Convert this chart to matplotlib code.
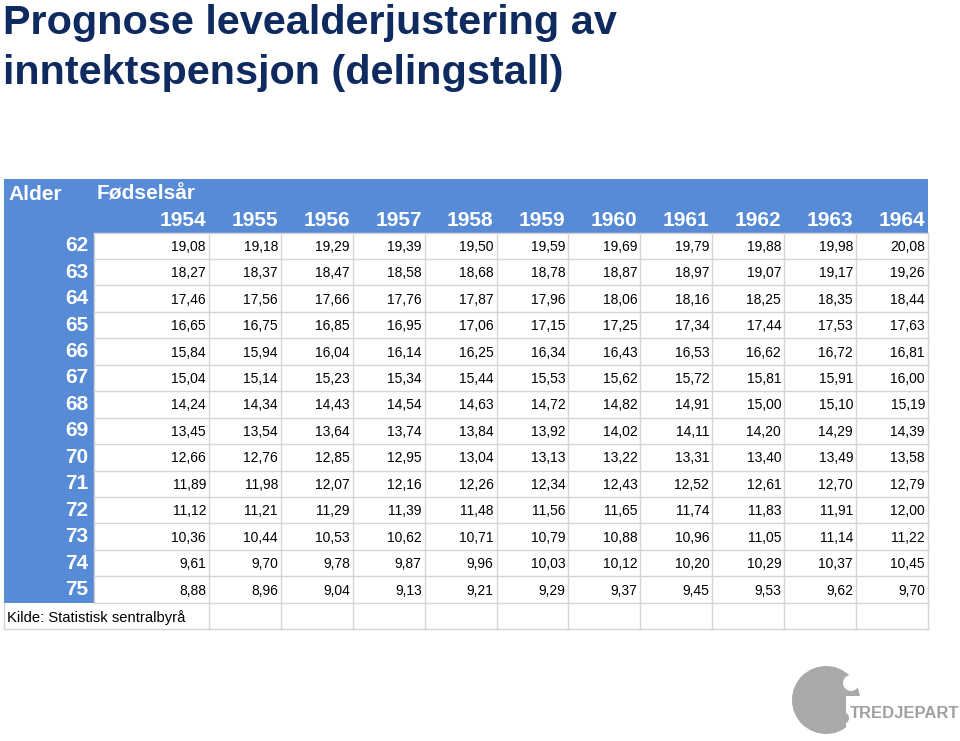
import matplotlib

matplotlib.use('Agg')
import matplotlib.pyplot as plt
from matplotlib.patches import Rectangle, Circle

plt.rcParams['font.family'] = ['Liberation Sans', 'DejaVu Sans']

title = "Prognose levealderjustering av\ninntektspensjon (delingstall)"
years = [1954, 1955, 1956, 1957, 1958, 1959, 1960, 1961, 1962, 1963, 1964]
ages = [62, 63, 64, 65, 66, 67, 68, 69, 70, 71, 72, 73, 74, 75]
values = [
    [19.08, 19.18, 19.29, 19.39, 19.50, 19.59, 19.69, 19.79, 19.88, 19.98, 20.08],
    [18.27, 18.37, 18.47, 18.58, 18.68, 18.78, 18.87, 18.97, 19.07, 19.17, 19.26],
    [17.46, 17.56, 17.66, 17.76, 17.87, 17.96, 18.06, 18.16, 18.25, 18.35, 18.44],
    [16.65, 16.75, 16.85, 16.95, 17.06, 17.15, 17.25, 17.34, 17.44, 17.53, 17.63],
    [15.84, 15.94, 16.04, 16.14, 16.25, 16.34, 16.43, 16.53, 16.62, 16.72, 16.81],
    [15.04, 15.14, 15.23, 15.34, 15.44, 15.53, 15.62, 15.72, 15.81, 15.91, 16.00],
    [14.24, 14.34, 14.43, 14.54, 14.63, 14.72, 14.82, 14.91, 15.00, 15.10, 15.19],
    [13.45, 13.54, 13.64, 13.74, 13.84, 13.92, 14.02, 14.11, 14.20, 14.29, 14.39],
    [12.66, 12.76, 12.85, 12.95, 13.04, 13.13, 13.22, 13.31, 13.40, 13.49, 13.58],
    [11.89, 11.98, 12.07, 12.16, 12.26, 12.34, 12.43, 12.52, 12.61, 12.70, 12.79],
    [11.12, 11.21, 11.29, 11.39, 11.48, 11.56, 11.65, 11.74, 11.83, 11.91, 12.00],
    [10.36, 10.44, 10.53, 10.62, 10.71, 10.79, 10.88, 10.96, 11.05, 11.14, 11.22],
    [9.61, 9.70, 9.78, 9.87, 9.96, 10.03, 10.12, 10.20, 10.29, 10.37, 10.45],
    [8.88, 8.96, 9.04, 9.13, 9.21, 9.29, 9.37, 9.45, 9.53, 9.62, 9.70],
]
source = "Kilde: Statistisk sentralbyrå"

blue = "#588bd6"
navy = "#0f2a5e"
grid = "#d4d4d4"
logo_grey = "#a9a9a9"

fig = plt.figure(figsize=(9.6, 7.41), dpi=100)
ax = fig.add_axes([0, 0, 1, 1])
ax.set_xlim(0, 960)
ax.set_ylim(741, 0)
ax.axis('off')

# title
lines = title.split("\n")
ax.text(3, 34, lines[0], fontsize=29.8, fontweight='bold', color=navy, va='baseline')
ax.text(3, 84, lines[1], fontsize=29.8, fontweight='bold', color=navy, va='baseline')

# table geometry (pixels)
left = 4
label_w = 90
first_w = 115
col_w = 71.9
top = 179
head_h = 53.5
row_h = 26.45

col_edges = [left + label_w, left + label_w + first_w]
for i in range(1, len(years)):
    col_edges.append(col_edges[-1] + col_w)
right = col_edges[-1]
body_top = top + head_h
body_bottom = body_top + row_h * len(ages)
src_bottom = body_bottom + row_h

# blue header + left column
ax.add_patch(Rectangle((left, top), right - left, head_h, color=blue, lw=0))
ax.add_patch(Rectangle((left, body_top), label_w, body_bottom - body_top, color=blue, lw=0))

# grid lines
for r in range(len(ages) + 1):
    y = body_top + r * row_h
    ax.plot([col_edges[0], right], [y, y], color=grid, lw=1)
ax.plot([left, right], [src_bottom, src_bottom], color=grid, lw=1)
ax.plot([left, left], [body_bottom, src_bottom], color=grid, lw=1)
for i, x in enumerate(col_edges):
    y_end = src_bottom if i > 0 else body_bottom
    ax.plot([x, x], [body_top, y_end], color=grid, lw=1)

# header texts
ax.text(8, top + 15, "Alder", fontsize=15, fontweight='bold', color='white', va='center')
ax.text(97, top + 15, "Fødselsår", fontsize=15, fontweight='bold', color='white', va='center')
for j, yr in enumerate(years):
    ax.text(col_edges[j + 1] - 3, top + 41, str(yr), fontsize=15, fontweight='bold',
            color='white', va='center', ha='right')

# body
for r, age in enumerate(ages):
    yc = body_top + (r + 0.5) * row_h
    ax.text(col_edges[0] - 6, yc, str(age), fontsize=15, fontweight='bold',
            color='white', va='center', ha='right')
    for j, v in enumerate(values[r]):
        ax.text(col_edges[j + 1] - 3, yc + 1, ("%.2f" % v).replace(".", ","), fontsize=10,
                color='black', va='center', ha='right')

ax.text(left + 3, body_bottom + row_h / 2 + 1, source, fontsize=10.6, color='black', va='center')

# logo
ax.add_patch(Circle((826, 700), 34, color=logo_grey, lw=0))
ax.add_patch(Circle((851, 683), 8, color='white', lw=0))
ax.add_patch(Rectangle((846, 696), 30, 45, color='white', lw=0))
ax.add_patch(Circle((843, 718), 6, color=logo_grey, lw=0))
ax.text(850, 713, "TREDJEPART", fontsize=12, fontweight='bold', color='#a0a0a0', va='center')

plt.savefig("out.png", dpi=100)
